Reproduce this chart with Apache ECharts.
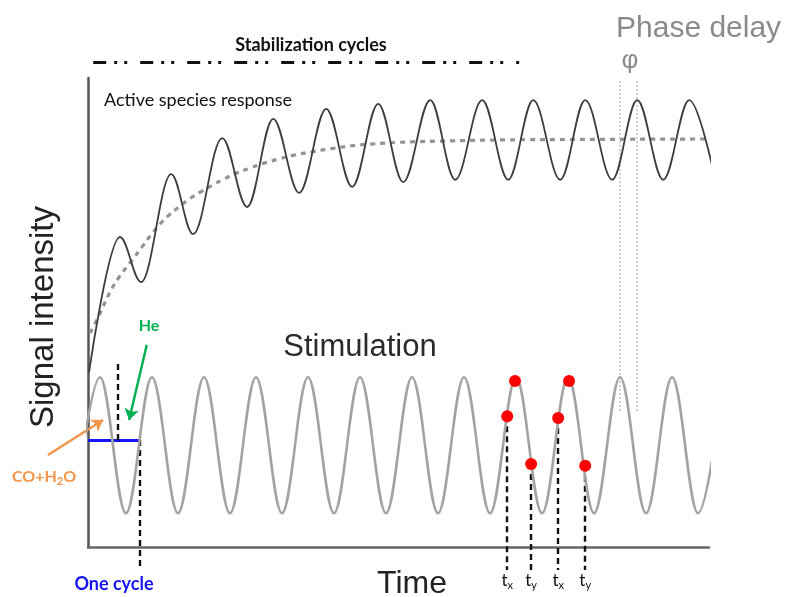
<!DOCTYPE html>
<html>
<head>
<meta charset="utf-8">
<script src="https://cdn.jsdelivr.net/npm/echarts@6/dist/echarts.min.js"></script>
<style>
  html, body { margin: 0; padding: 0; background: #ffffff; }
  #chart { width: 792px; height: 597px; }
</style>
</head>
<body>
<div id="chart"></div>
<script>
// Time is counted in stimulation cycles, signal in arbitrary units (0-100).

// Stimulation: turning points of the periodic concentration switch
const stimTime = [-0.27, 0.23, 0.73, 1.23, 1.73, 2.23, 2.73, 3.23, 3.73, 4.23, 4.73, 5.23, 5.73,
                  6.23, 6.73, 7.23, 7.73, 8.23, 8.73, 9.23, 9.73, 10.23, 10.73, 11.23, 11.73, 12.23];
const stimSignal = [7.2, 36.2, 7.2, 36.2, 7.2, 36.2, 7.2, 36.2, 7.2, 36.2, 7.2, 36.2, 7.2,
                    36.2, 7.2, 36.2, 7.2, 36.2, 7.2, 36.2, 7.2, 36.2, 7.2, 36.2, 7.2, 36.2];

// Active species response: turning points while it settles into the periodic state
const respTime = [0.02, 0.615, 1.02, 1.60, 2.02, 2.58, 3.06, 3.56, 4.06, 4.58, 5.08, 5.58, 6.06,
                  6.58, 7.06, 7.58, 8.08, 8.56, 9.08, 9.56, 10.08, 10.56, 11.06, 11.56, 12.06];
const respSignal = [37.3, 66.1, 56.5, 79.5, 66.7, 87.2, 72.5, 91.3, 75.5, 93.4, 76.8, 94.5, 77.8,
                    95.3, 78.3, 95.3, 78.3, 95.3, 78.3, 95.3, 78.3, 95.3, 78.3, 95.3, 78.3];

// Mean level of the response (build-up towards the quasi-steady state)
const baseTime = [0.04, 0.23, 0.42, 0.6, 0.85, 1.04, 1.2, 1.38, 1.55, 1.77, 1.96, 2.15, 2.4, 2.6,
                  2.87, 3.12, 3.37, 3.69, 3.94, 4.33, 4.71, 5.04, 5.42, 6.0, 7.0, 8.0, 9.5, 11.92];
const baseSignal = [45.6, 49.8, 54.3, 57.6, 61.2, 64.0, 66.4, 68.8, 70.7, 72.7, 74.3, 75.6, 77.2, 78.4,
                    79.8, 80.8, 81.8, 82.8, 83.5, 84.3, 85.0, 85.5, 85.9, 86.3, 86.6, 86.8, 86.9, 87.0];

// Sampling instants on the stimulation (t_x / t_y pairs)
const sampleTime = [8.06, 8.21, 8.52, 9.04, 9.25, 9.56];
const sampleSignal = [27.9, 35.4, 17.7, 27.5, 35.4, 17.3];
const sampleTag = ['x', '', 'y', 'x', '', 'y'];

// Stabilization period, one stimulation cycle, half-cycle switch
const stabilization = [0.1, 8.29];
const stabilizationLevel = 103.4;
const cycle = [0, 1];
const cycleLevel = 22.8;
const switchTime = 0.57;

// Phase delay: a stimulation peak and the matching response peak
const phasePeakIndex = 21;

const chart = echarts.init(document.getElementById('chart'), null, { renderer: 'canvas' });

const ARIAL = '"Liberation Sans", Arial, sans-serif';
const CALI = 'Lato, "Open Sans", sans-serif';

function segments(name, list, lineStyle, extra) {
  return Object.assign({
    type: 'lines',
    name: name,
    coordinateSystem: 'cartesian2d',
    clip: false,
    silent: true,
    symbol: 'none',
    lineStyle: Object.assign({ opacity: 1, curveness: 0 }, lineStyle),
    data: list.map(function (c) { return Array.isArray(c) ? { coords: c } : c; })
  }, extra || {});
}

const zip = (xs, ys) => xs.map((x, i) => [x, ys[i]]);

const dropLines = [];
sampleTime.forEach(function (t, i) {
  if (!sampleTag[i]) return;
  dropLines.push({
    coords: [[t, sampleSignal[i]], [t, -4.9]],
    label: { formatter: '{t|t}{s|' + sampleTag[i] + '}' }
  });
});

const phaseTop = 99.5, phaseBottom = 29;

const option = {
  animation: false,
  backgroundColor: '#ffffff',
  grid: { left: 88, top: 78, width: 621, height: 469, containLabel: false },
  xAxis: {
    type: 'value', min: 0, max: 11.94,
    axisLine: { show: true, onZero: false, lineStyle: { color: '#666666', width: 2.5 } },
    axisTick: { show: false }, axisLabel: { show: false }, splitLine: { show: false }
  },
  yAxis: {
    type: 'value', min: 0, max: 100,
    axisLine: { show: true, onZero: false, lineStyle: { color: '#555555', width: 2.5 } },
    axisTick: { show: false }, axisLabel: { show: false }, splitLine: { show: false }
  },
  series: [
    {
      type: 'line', name: 'Stimulation', data: zip(stimTime, stimSignal),
      smooth: 0.36, smoothMonotone: 'x', showSymbol: false, symbol: 'none',
      lineStyle: { color: '#a3a3a3', width: 2.6 }, z: 2
    },
    {
      type: 'line', name: 'Active species response', data: zip(respTime, respSignal),
      smooth: 0.36, smoothMonotone: 'x', showSymbol: false, symbol: 'none',
      lineStyle: { color: '#3d3d3d', width: 1.8 }, z: 3
    },
    {
      type: 'line', name: 'Mean response', data: zip(baseTime, baseSignal),
      smooth: 0.4, showSymbol: false, symbol: 'none',
      lineStyle: { color: '#939393', width: 3.2, type: [5, 5], cap: 'butt' }, z: 2
    },
    segments('Phase delay', [
      [[stimTime[phasePeakIndex], phaseBottom], [stimTime[phasePeakIndex], phaseTop]],
      [[respTime[phasePeakIndex], phaseBottom], [respTime[phasePeakIndex], phaseTop]]
    ], { color: '#c4c4c4', width: 1.6, type: [2, 2] }),
    segments('Stabilization cycles', [
      [[stabilization[0], stabilizationLevel], [stabilization[1], stabilizationLevel]]
    ], { color: '#111111', width: 3, type: [13, 8, 3, 7, 3, 13], cap: 'butt' }),
    segments('One cycle', [
      [[cycle[0], cycleLevel], [cycle[1], cycleLevel]]
    ], { color: '#1414f5', width: 3 }),
    segments('Cycle marks', [
      [[switchTime, cycleLevel], [switchTime, 39.4]],
      [[cycle[1], cycleLevel], [cycle[1], -4.3]]
    ], { color: '#111111', width: 2.4, type: [6, 4], cap: 'butt' }),
    segments('Sampling', dropLines, { color: '#111111', width: 2.4, type: [6, 4], cap: 'butt' }, {
      label: {
        show: true, position: 'end', distance: 1,
        rich: {
          t: { fontSize: 17, fontFamily: CALI, color: '#111111', lineHeight: 20, verticalAlign: 'middle' },
          s: { fontSize: 11, fontFamily: CALI, color: '#111111', lineHeight: 10, verticalAlign: 'bottom' }
        }
      }
    }),
    segments('He', [
      [[1.13, 43.1], [0.79, 27.1]]
    ], { color: '#00b050', width: 2.4 }, { symbol: ['none', 'arrow'], symbolSize: 11 }),
    segments('CO+H2O', [
      [[-0.77, 19.6], [0.29, 27.1]]
    ], { color: '#f4964a', width: 2.4 }, { symbol: ['none', 'arrow'], symbolSize: 11 }),
    {
      type: 'scatter', name: 'Sampling points', data: zip(sampleTime, sampleSignal),
      symbol: 'circle', symbolSize: 12, itemStyle: { color: '#ff0000', opacity: 1 }, z: 6
    }
  ],
  graphic: [
    { type: 'text', x: 311, y: 45, style: { text: 'Stabilization cycles', font: 'bold 18px ' + CALI, fill: '#111111', textAlign: 'center', textVerticalAlign: 'middle' } },
    { type: 'text', x: 104, y: 100, style: { text: 'Active species response', font: '18px ' + CALI, fill: '#111111', textAlign: 'left', textVerticalAlign: 'middle' } },
    { type: 'text', x: 360, y: 347, style: { text: 'Stimulation', font: '31px ' + ARIAL, fill: '#2b2b2b', textAlign: 'center', textVerticalAlign: 'middle' } },
    { type: 'text', x: 412, y: 584, style: { text: 'Time', font: '32px ' + ARIAL, fill: '#222222', textAlign: 'center', textVerticalAlign: 'middle' } },
    { type: 'text', x: 44, y: 317, rotation: Math.PI / 2, style: { text: 'Signal intensity', font: '33px ' + ARIAL, fill: '#222222', textAlign: 'center', textVerticalAlign: 'middle' } },
    { type: 'text', x: 616, y: 29, style: { text: 'Phase delay', font: '30px ' + ARIAL, fill: '#8a8a8a', textAlign: 'left', textVerticalAlign: 'middle' } },
    { type: 'text', x: 630, y: 61, style: { text: 'φ', font: '26px ' + ARIAL, fill: '#8a8a8a', textAlign: 'center', textVerticalAlign: 'middle' } },
    { type: 'text', x: 149, y: 326, style: { text: 'He', font: 'bold 16px ' + CALI, fill: '#00b050', textAlign: 'center', textVerticalAlign: 'middle' } },
    { type: 'text', x: 114, y: 584, style: { text: 'One cycle', font: 'bold 18px ' + CALI, fill: '#1414f5', textAlign: 'center', textVerticalAlign: 'middle' } },
    {
      type: 'text', x: 44, y: 477,
      style: {
        text: '{a|CO+H}{s|2}{a|O}', textAlign: 'center', textVerticalAlign: 'middle',
        rich: {
          a: { fontSize: 16, fontWeight: 'bold', fontFamily: CALI, fill: '#f4964a', lineHeight: 20, verticalAlign: 'middle' },
          s: { fontSize: 11, fontWeight: 'bold', fontFamily: CALI, fill: '#f4964a', lineHeight: 9, verticalAlign: 'bottom' }
        }
      }
    }
  ]
};

chart.setOption(option);
</script>
</body>
</html>
